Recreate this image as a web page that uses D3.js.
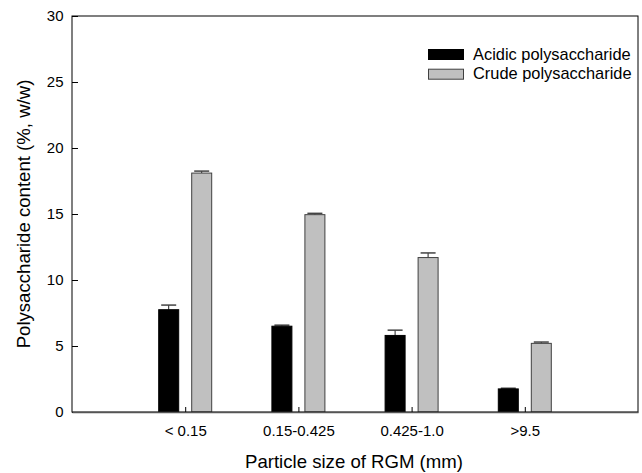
<!DOCTYPE html>
<html>
<head>
<meta charset="utf-8">
<script src="https://cdn.jsdelivr.net/npm/d3@7"></script>
<style>
  body { margin: 0; background: #fff; }
  svg { display: block; font-family: "Liberation Sans", Arial, sans-serif; }
</style>
</head>
<body>
<div id="chart"></div>
<script>
const categories = ["< 0.15", "0.15-0.425", "0.425-1.0", ">9.5"];
const acidic = [7.75, 6.5, 5.8, 1.75];
const acidicErr = [0.35, 0.08, 0.4, 0.05];
const crude = [18.1, 14.95, 11.7, 5.2];
const crudeErr = [0.15, 0.1, 0.35, 0.1];
const yTicks = [0, 5, 10, 15, 20, 25, 30];
const seriesNames = ["Acidic polysaccharide", "Crude polysaccharide"];

const width = 642;
const height = 473;
const marginTop = 16;
const marginRight = 4;
const marginBottom = 61;
const marginLeft = 72;
const fontFam = "Liberation Sans, Arial, sans-serif";

const x = d3.scalePoint()
  .domain(categories)
  .range([marginLeft, width - marginRight])
  .padding(1);

const y = d3.scaleLinear()
  .domain([0, 30])
  .range([height - marginBottom, marginTop]);

const svg = d3.select("#chart")
  .append("svg")
  .attr("width", width)
  .attr("height", height)
  .attr("viewBox", [0, 0, width, height]);

const barW = 21;
const offset = 27; // distance from category center to outer bar edge

const series = [
  { name: seriesNames[0], values: acidic, err: acidicErr, fill: "#000", stroke: "#000", dx: -offset },
  { name: seriesNames[1], values: crude, err: crudeErr, fill: "#c0c0c0", stroke: "#404040", dx: offset - barW }
];

// bars + error bars (upper only)
series.forEach(s => {
  const g = svg.append("g");
  const rows = categories.map((c, i) => ({ c, v: s.values[i], e: s.err[i] }));

  g.selectAll("line.stem")
    .data(rows)
    .join("line")
    .attr("x1", d => x(d.c) + s.dx + barW / 2)
    .attr("x2", d => x(d.c) + s.dx + barW / 2)
    .attr("y1", d => y(d.v))
    .attr("y2", d => y(d.v + d.e))
    .attr("stroke", "#222")
    .attr("stroke-width", 1);

  g.selectAll("line.cap")
    .data(rows)
    .join("line")
    .attr("x1", d => x(d.c) + s.dx + barW / 2 - 7.5)
    .attr("x2", d => x(d.c) + s.dx + barW / 2 + 7.5)
    .attr("y1", d => y(d.v + d.e))
    .attr("y2", d => y(d.v + d.e))
    .attr("stroke", "#444")
    .attr("stroke-width", 1.5);

  g.selectAll("rect")
    .data(rows)
    .join("rect")
    .attr("x", d => x(d.c) + s.dx + 0.5)
    .attr("y", d => y(d.v))
    .attr("width", barW - 1)
    .attr("height", d => y(0) - y(d.v))
    .attr("fill", s.fill)
    .attr("stroke", s.stroke)
    .attr("stroke-width", 1);
});

// frame
svg.append("rect")
  .attr("x", marginLeft)
  .attr("y", marginTop)
  .attr("width", width - marginLeft - marginRight)
  .attr("height", height - marginTop - marginBottom)
  .attr("fill", "none")
  .attr("stroke", "#000")
  .attr("stroke-width", 1);

// y axis, ticks point inward
const yAxis = svg.append("g")
  .attr("transform", `translate(${marginLeft},0)`)
  .call(d3.axisLeft(y).tickValues(yTicks).tickSizeInner(-6).tickSizeOuter(0).tickPadding(8.5).tickFormat(d3.format("d")));
yAxis.select(".domain").remove();
yAxis.selectAll("text").attr("font-size", 15).attr("font-family", fontFam).attr("fill", "#000");

// x axis, ticks point inward
const xAxis = svg.append("g")
  .attr("transform", `translate(0,${height - marginBottom})`)
  .call(d3.axisBottom(x).tickSizeInner(-5).tickSizeOuter(0).tickPadding(12));
xAxis.select(".domain").attr("stroke", "#555").attr("stroke-width", 1.5);
xAxis.selectAll("text")
  .attr("font-size", 15)
  .attr("font-family", fontFam)
  .attr("fill", "#000")
  .attr("dy", null)
  .attr("y", 24);

// axis titles
svg.append("text")
  .attr("x", (marginLeft + width - marginRight) / 2 - 1)
  .attr("y", 468)
  .attr("text-anchor", "middle")
  .attr("font-size", 18.6)
  .text("Particle size of RGM (mm)");

svg.append("text")
  .attr("transform", `translate(29.5,${(marginTop + height - marginBottom) / 2}) rotate(-90)`)
  .attr("text-anchor", "middle")
  .attr("font-size", 18.6)
  .text("Polysaccharide content (%, w/w)");

// legend
const legend = svg.append("g").attr("transform", "translate(428,49)");
series.forEach((s, i) => {
  legend.append("rect")
    .attr("x", 0.5)
    .attr("y", i * 19.7 + 0.5)
    .attr("width", 35)
    .attr("height", 10)
    .attr("fill", s.fill)
    .attr("stroke", s.stroke);
  legend.append("text")
    .attr("x", 45)
    .attr("y", i * 19.7 + 10.5)
    .attr("font-size", 16.4)
    .text(s.name);
});
</script>
</body>
</html>
